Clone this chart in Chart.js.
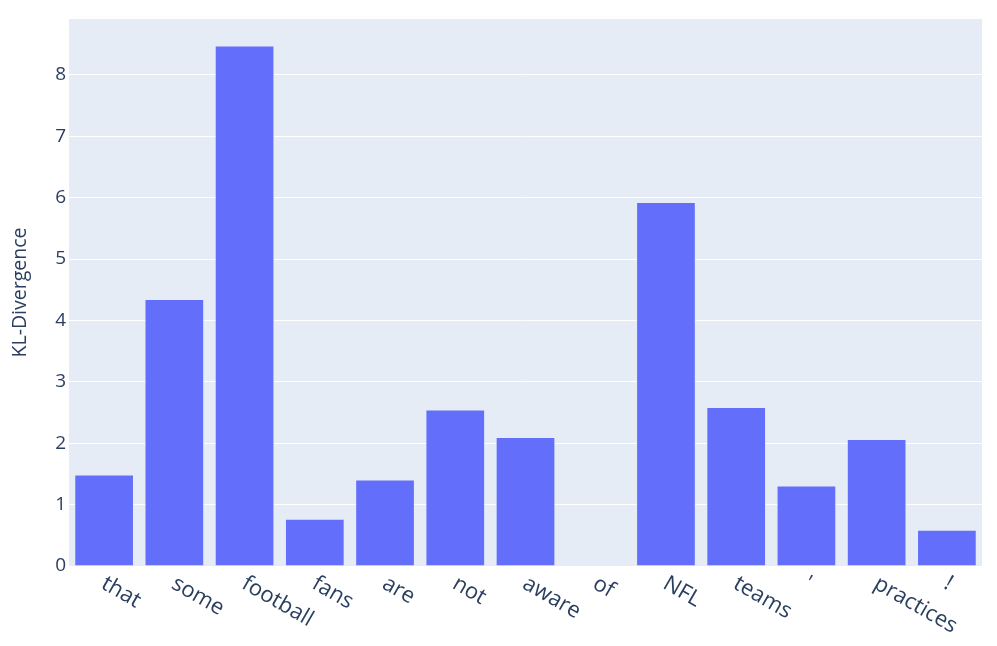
<!DOCTYPE html>
<html>
<head>
<meta charset="utf-8">
<script src="https://cdn.jsdelivr.net/npm/chart.js@4"></script>
<style>
html,body{margin:0;padding:0;background:#fff;}
#wrap{width:997px;height:646px;position:relative;}
</style>
</head>
<body>
<div id="wrap"><canvas id="c" width="997" height="646"></canvas></div>
<script>
const categories = ["that", "some", "football", "fans", "are", "not", "aware", "of", "NFL", "teams", "'", "practices", "!"];
const klValues = [1.49, 4.35, 8.48, 0.77, 1.41, 2.55, 2.10, 0.01, 5.93, 2.59, 1.31, 2.07, 0.59];
const yTicks = [0, 1, 2, 3, 4, 5, 6, 7, 8];
const yTitle = "KL-Divergence";

const FONT = "'Open Sans', 'Noto Sans', sans-serif";
const TEXT = "#2a3f5f";

const bgPlugin = {
  id: 'plotBg',
  beforeDraw(chart) {
    const {ctx, chartArea: a} = chart;
    ctx.save();
    ctx.fillStyle = '#e5ecf6';
    ctx.fillRect(a.left, a.top, a.right - a.left, a.bottom - a.top);
    ctx.restore();
  }
};

const xLabelPlugin = {
  id: 'xLabels',
  afterDraw(chart) {
    const {ctx} = chart;
    const xs = chart.scales.x;
    const base = chart.chartArea.bottom;
    ctx.save();
    ctx.fillStyle = TEXT;
    ctx.font = "22px " + FONT;
    ctx.textAlign = 'left';
    ctx.textBaseline = 'middle';
    categories.forEach((lab, i) => {
      const x = xs.getPixelForValue(i);
      ctx.save();
      ctx.translate(x - 1, base + 16);
      ctx.rotate(30 * Math.PI / 180);
      ctx.fillText(lab, 0, 0);
      ctx.restore();
    });
    ctx.restore();
  }
};

new Chart(document.getElementById('c'), {
  type: 'bar',
  data: {
    labels: categories,
    datasets: [{
      data: klValues,
      backgroundColor: '#636efa',
      borderColor: 'rgba(229,236,246,0.6)',
      borderWidth: 1,
      barPercentage: 0.85,
      categoryPercentage: 1.0
    }]
  },
  options: {
    responsive: false,
    animation: false,
    layout: {padding: {left: 0, top: 19, right: 15, bottom: 0}},
    plugins: {legend: {display: false}, tooltip: {enabled: false}},
    scales: {
      x: {
        grid: {display: false, drawTicks: false},
        border: {display: false},
        ticks: {display: false},
        afterFit(s) { s.height = 80; }
      },
      y: {
        min: 0,
        max: 8.91,
        afterBuildTicks(s) { s.ticks = yTicks.map(v => ({value: v})); },
        grid: {color: '#ffffff', lineWidth: 1, drawTicks: false},
        border: {display: false},
        ticks: {
          includeBounds: false,
          color: TEXT,
          font: {family: FONT, size: 19},
          padding: 3
        },
        title: {
          display: true,
          text: yTitle,
          color: TEXT,
          font: {family: FONT, size: 19.5},
          padding: {top: 9, bottom: 0}
        },
        afterFit(s) { s.width = 69; }
      }
    }
  },
  plugins: [bgPlugin, xLabelPlugin]
});
</script>
</body>
</html>
